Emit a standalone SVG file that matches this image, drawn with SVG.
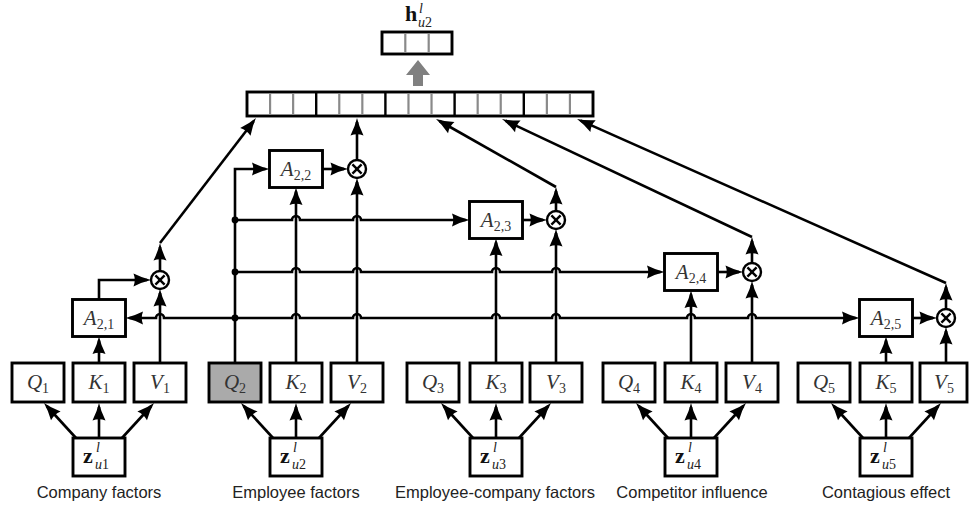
<svg xmlns="http://www.w3.org/2000/svg" width="969" height="506" viewBox="0 0 969 506">
<style>
.bx{fill:#fff;stroke:#000;stroke-width:2.9}
.ln{fill:none;stroke:#000;stroke-width:2.6}
.ar{fill:none;stroke:#000;stroke-width:2.6;marker-end:url(#ah)}
.ci{fill:#fff;stroke:#000;stroke-width:2.4}
.cx{stroke:#000;stroke-width:2.4}
.gs{stroke:#8a8a8a;stroke-width:2.2}
.bs{stroke:#000;stroke-width:2.4}
.m{font-family:"Liberation Serif","DejaVu Serif",serif;font-size:21px;fill:#333}
.mi{font-style:italic}
.sb{font-size:14px;font-style:normal}
.zb{font-family:"Liberation Serif","DejaVu Serif",serif;font-size:22px;font-weight:bold;fill:#111}
.ss{font-family:"Liberation Serif","DejaVu Serif",serif;font-size:14px;fill:#222}
.lb{font-family:"Liberation Sans",Arial,sans-serif;font-size:16.5px;fill:#222;text-anchor:middle}
</style>
<defs>
<marker id="ah" markerUnits="userSpaceOnUse" markerWidth="20" markerHeight="14" refX="14" refY="7" orient="auto" overflow="visible">
<path d="M18,7 Q10,5.2 0.5,0.5 Q3,7 0.5,13.5 Q10,8.8 18,7 Z" fill="#000"/>
</marker>
<g id="otimes"><circle r="9" class="ci"/><line x1="-4.6" y1="-4.6" x2="4.6" y2="4.6" class="cx"/><line x1="-4.6" y1="4.6" x2="4.6" y2="-4.6" class="cx"/></g>
</defs>
<rect width="969" height="506" fill="#fff"/>

<!-- output vector -->
<g id="h-out">
<rect x="382" y="32" width="70" height="22" class="bx"/>
<line x1="405.3" y1="33.5" x2="405.3" y2="52.5" class="gs"/>
<line x1="428.7" y1="33.5" x2="428.7" y2="52.5" class="gs"/>
<text x="405" y="21" class="zb">h</text>
<text x="419" y="13" class="ss" font-style="italic">l</text>
<text x="418" y="27" class="ss"><tspan font-style="italic">u</tspan>2</text>
</g>
<polygon id="pool-arrow" points="413,86 423,86 423,75 430,75 418,60 406,75 413,75" fill="#808080"/>

<!-- concatenated vector -->
<g id="concat">
<rect x="247" y="92" width="346" height="24" class="bx"/>
<g class="gs">
<line x1="270.07" y1="93.5" x2="270.07" y2="114.5"/><line x1="293.13" y1="93.5" x2="293.13" y2="114.5"/>
<line x1="339.27" y1="93.5" x2="339.27" y2="114.5"/><line x1="362.33" y1="93.5" x2="362.33" y2="114.5"/>
<line x1="408.47" y1="93.5" x2="408.47" y2="114.5"/><line x1="431.53" y1="93.5" x2="431.53" y2="114.5"/>
<line x1="477.67" y1="93.5" x2="477.67" y2="114.5"/><line x1="500.73" y1="93.5" x2="500.73" y2="114.5"/>
<line x1="546.87" y1="93.5" x2="546.87" y2="114.5"/><line x1="569.93" y1="93.5" x2="569.93" y2="114.5"/>
</g>
<g class="bs">
<line x1="316.2" y1="93" x2="316.2" y2="115"/><line x1="385.4" y1="93" x2="385.4" y2="115"/>
<line x1="454.6" y1="93" x2="454.6" y2="115"/><line x1="523.8" y1="93" x2="523.8" y2="115"/>
</g>
</g>

<!-- connectors -->
<g id="connectors">
<!-- z to Q K V -->
<line x1="76" y1="438" x2="46.7" y2="406" class="ar"/><line x1="99" y1="438" x2="99" y2="407" class="ar"/><line x1="122" y1="438" x2="151.3" y2="406" class="ar"/>
<line x1="273" y1="438" x2="243.7" y2="406" class="ar"/><line x1="296" y1="438" x2="296" y2="407" class="ar"/><line x1="319" y1="438" x2="348.3" y2="406" class="ar"/>
<line x1="473" y1="438" x2="443.7" y2="406" class="ar"/><line x1="496" y1="438" x2="496" y2="407" class="ar"/><line x1="519" y1="438" x2="548.3" y2="406" class="ar"/>
<line x1="668" y1="438" x2="638.7" y2="406" class="ar"/><line x1="691" y1="438" x2="691" y2="407" class="ar"/><line x1="714" y1="438" x2="743.3" y2="406" class="ar"/>
<line x1="863" y1="438" x2="833.7" y2="406" class="ar"/><line x1="886" y1="438" x2="886" y2="407" class="ar"/><line x1="909" y1="438" x2="938.3" y2="406" class="ar"/>
<!-- K to A -->
<line x1="99" y1="363" x2="99" y2="340.5" class="ar"/>
<line x1="296" y1="363" x2="296" y2="191.5" class="ar"/>
<line x1="496" y1="363" x2="496" y2="242.5" class="ar"/>
<line x1="691" y1="363" x2="691" y2="294.5" class="ar"/>
<line x1="886" y1="363" x2="886" y2="340.5" class="ar"/>
<!-- V to otimes -->
<line x1="160" y1="363" x2="160" y2="293" class="ar"/>
<line x1="357" y1="363" x2="357" y2="182" class="ar"/>
<line x1="556" y1="363" x2="556" y2="233" class="ar"/>
<line x1="752" y1="363" x2="752" y2="285" class="ar"/>
<line x1="946" y1="363" x2="946" y2="331" class="ar"/>
<!-- A to otimes -->
<path d="M99,299.5 V280 H147" class="ar"/>
<line x1="322.5" y1="169" x2="344" y2="169" class="ar"/>
<line x1="522.5" y1="220" x2="543" y2="220" class="ar"/>
<line x1="717.5" y1="272" x2="739" y2="272" class="ar"/>
<line x1="912.5" y1="318" x2="933" y2="318" class="ar"/>
<!-- otimes up -->
<line x1="160" y1="271" x2="160" y2="247" class="ar"/>
<line x1="160" y1="243" x2="253.6" y2="121.2" class="ar"/>
<line x1="357" y1="160" x2="357" y2="122" class="ar"/>
<line x1="556" y1="211" x2="556" y2="191" class="ar"/>
<line x1="556" y1="187" x2="439.5" y2="121" class="ar"/>
<line x1="752" y1="263" x2="752" y2="241" class="ar"/>
<line x1="752" y1="237" x2="505.6" y2="120.7" class="ar"/>
<line x1="946" y1="309" x2="946" y2="287" class="ar"/>
<line x1="946" y1="283" x2="580.7" y2="120.6" class="ar"/>
<!-- Q2 query lines -->
<path d="M235,363 V169 H265.5" class="ar"/>
<path d="M235,220 H292 A4,4 0 0 1 300,220 H353 A4,4 0 0 1 361,220 H465.5" class="ar"/>
<path d="M235,272 H292 A4,4 0 0 1 300,272 H353 A4,4 0 0 1 361,272 H492 A4,4 0 0 1 500,272 H552 A4,4 0 0 1 560,272 H660.5" class="ar"/>
<path d="M235,318 H292 A4,4 0 0 1 300,318 H353 A4,4 0 0 1 361,318 H492 A4,4 0 0 1 500,318 H552 A4,4 0 0 1 560,318 H687 A4,4 0 0 1 695,318 H748 A4,4 0 0 1 756,318 H855.5" class="ar"/>
<path d="M235,318 H164 A4,4 0 0 0 156,318 H129.5" class="ar"/>
<circle cx="235" cy="220" r="3.4" fill="#000"/>
<circle cx="235" cy="272" r="3.4" fill="#000"/>
<circle cx="235" cy="318" r="3.4" fill="#000"/>
</g>

<!-- otimes nodes -->
<use id="mul1" href="#otimes" x="160" y="280"/>
<use id="mul2" href="#otimes" x="357" y="169"/>
<use id="mul3" href="#otimes" x="556" y="220"/>
<use id="mul4" href="#otimes" x="752" y="272"/>
<use id="mul5" href="#otimes" x="946" y="318"/>

<!-- attention nodes -->
<g id="A21"><rect x="72.5" y="299.5" width="53" height="37" class="bx"/><text x="99" y="325" class="m" text-anchor="middle"><tspan class="mi">A</tspan><tspan class="sb" dy="4">2,1</tspan></text></g>
<g id="A22"><rect x="269.5" y="150.5" width="53" height="37" class="bx"/><text x="296" y="176" class="m" text-anchor="middle"><tspan class="mi">A</tspan><tspan class="sb" dy="4">2,2</tspan></text></g>
<g id="A23"><rect x="469.5" y="201.5" width="53" height="37" class="bx"/><text x="496" y="227" class="m" text-anchor="middle"><tspan class="mi">A</tspan><tspan class="sb" dy="4">2,3</tspan></text></g>
<g id="A24"><rect x="664.5" y="253.5" width="53" height="37" class="bx"/><text x="691" y="279" class="m" text-anchor="middle"><tspan class="mi">A</tspan><tspan class="sb" dy="4">2,4</tspan></text></g>
<g id="A25"><rect x="859.5" y="299.5" width="53" height="37" class="bx"/><text x="886" y="325" class="m" text-anchor="middle"><tspan class="mi">A</tspan><tspan class="sb" dy="4">2,5</tspan></text></g>

<!-- Q K V nodes -->
<g id="Q1"><rect x="12" y="363" width="52" height="39" class="bx"/><text x="38" y="389" class="m" text-anchor="middle"><tspan class="mi">Q</tspan><tspan class="sb" dy="4">1</tspan></text></g>
<g id="K1"><rect x="73" y="363" width="52" height="39" class="bx"/><text x="99" y="389" class="m" text-anchor="middle"><tspan class="mi">K</tspan><tspan class="sb" dy="4">1</tspan></text></g>
<g id="V1"><rect x="134" y="363" width="52" height="39" class="bx"/><text x="160" y="389" class="m" text-anchor="middle"><tspan class="mi">V</tspan><tspan class="sb" dy="4">1</tspan></text></g>

<g id="Q2"><rect x="209" y="363" width="52" height="39" class="bx" style="fill:#aaaaaa"/><text x="235" y="389" class="m" text-anchor="middle"><tspan class="mi">Q</tspan><tspan class="sb" dy="4">2</tspan></text></g>
<g id="K2"><rect x="270" y="363" width="52" height="39" class="bx"/><text x="296" y="389" class="m" text-anchor="middle"><tspan class="mi">K</tspan><tspan class="sb" dy="4">2</tspan></text></g>
<g id="V2"><rect x="331" y="363" width="52" height="39" class="bx"/><text x="357" y="389" class="m" text-anchor="middle"><tspan class="mi">V</tspan><tspan class="sb" dy="4">2</tspan></text></g>

<g id="Q3"><rect x="407" y="363" width="52" height="39" class="bx"/><text x="433" y="389" class="m" text-anchor="middle"><tspan class="mi">Q</tspan><tspan class="sb" dy="4">3</tspan></text></g>
<g id="K3"><rect x="470" y="363" width="52" height="39" class="bx"/><text x="496" y="389" class="m" text-anchor="middle"><tspan class="mi">K</tspan><tspan class="sb" dy="4">3</tspan></text></g>
<g id="V3"><rect x="530" y="363" width="52" height="39" class="bx"/><text x="556" y="389" class="m" text-anchor="middle"><tspan class="mi">V</tspan><tspan class="sb" dy="4">3</tspan></text></g>

<g id="Q4"><rect x="603" y="363" width="52" height="39" class="bx"/><text x="629" y="389" class="m" text-anchor="middle"><tspan class="mi">Q</tspan><tspan class="sb" dy="4">4</tspan></text></g>
<g id="K4"><rect x="665" y="363" width="52" height="39" class="bx"/><text x="691" y="389" class="m" text-anchor="middle"><tspan class="mi">K</tspan><tspan class="sb" dy="4">4</tspan></text></g>
<g id="V4"><rect x="726" y="363" width="52" height="39" class="bx"/><text x="752" y="389" class="m" text-anchor="middle"><tspan class="mi">V</tspan><tspan class="sb" dy="4">4</tspan></text></g>

<g id="Q5"><rect x="798" y="363" width="52" height="39" class="bx"/><text x="824" y="389" class="m" text-anchor="middle"><tspan class="mi">Q</tspan><tspan class="sb" dy="4">5</tspan></text></g>
<g id="K5"><rect x="860" y="363" width="52" height="39" class="bx"/><text x="886" y="389" class="m" text-anchor="middle"><tspan class="mi">K</tspan><tspan class="sb" dy="4">5</tspan></text></g>
<g id="V5"><rect x="920" y="363" width="47" height="39" class="bx"/><text x="944" y="389" class="m" text-anchor="middle"><tspan class="mi">V</tspan><tspan class="sb" dy="4">5</tspan></text></g>

<!-- z nodes -->
<g id="z1"><rect x="73" y="438" width="52" height="38" class="bx"/><text x="83" y="463" class="zb">z</text><text x="96" y="452" class="ss" font-style="italic">l</text><text x="95" y="469" class="ss"><tspan font-style="italic">u</tspan>1</text></g>
<g id="z2"><rect x="270" y="438" width="52" height="38" class="bx"/><text x="280" y="463" class="zb">z</text><text x="293" y="452" class="ss" font-style="italic">l</text><text x="292" y="469" class="ss"><tspan font-style="italic">u</tspan>2</text></g>
<g id="z3"><rect x="470" y="438" width="52" height="38" class="bx"/><text x="480" y="463" class="zb">z</text><text x="493" y="452" class="ss" font-style="italic">l</text><text x="492" y="469" class="ss"><tspan font-style="italic">u</tspan>3</text></g>
<g id="z4"><rect x="665" y="438" width="52" height="38" class="bx"/><text x="675" y="463" class="zb">z</text><text x="688" y="452" class="ss" font-style="italic">l</text><text x="687" y="469" class="ss"><tspan font-style="italic">u</tspan>4</text></g>
<g id="z5"><rect x="860" y="438" width="52" height="38" class="bx"/><text x="870" y="463" class="zb">z</text><text x="883" y="452" class="ss" font-style="italic">l</text><text x="882" y="469" class="ss"><tspan font-style="italic">u</tspan>5</text></g>

<!-- group labels -->
<g id="labels">
<text x="99" y="498" class="lb">Company factors</text>
<text x="296" y="498" class="lb">Employee factors</text>
<text x="495" y="498" class="lb">Employee-company factors</text>
<text x="692" y="498" class="lb">Competitor influence</text>
<text x="886" y="498" class="lb">Contagious effect</text>
</g>
</svg>
